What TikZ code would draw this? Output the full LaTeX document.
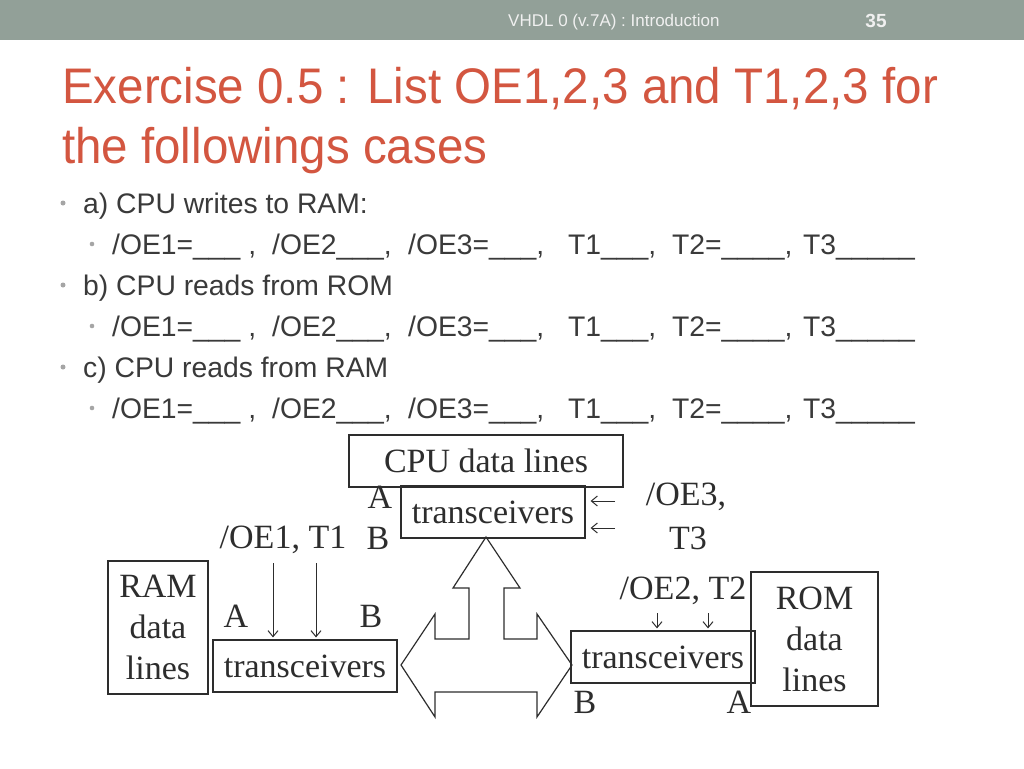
\documentclass[tikz,border=0pt]{standalone}
\usepackage{fontspec}
\setmainfont{Liberation Serif}
\setsansfont{Liberation Sans}
\newfontfamily\titlefont[FakeStretch=0.95]{Liberation Sans}
\usetikzlibrary{arrows.meta}
\definecolor{barcol}{RGB}{146,160,152}
\definecolor{titlecol}{RGB}{211,86,64}
\definecolor{bodytext}{RGB}{58,58,58}
\definecolor{dotcol}{RGB}{165,165,165}
\definecolor{inkcol}{RGB}{45,45,45}
% one row of blanks to fill in
\newcommand{\blankrow}{%
  \makebox[160pt][l]{/OE1=\_\_\_ ,}%
  \makebox[136pt][l]{/OE2\_\_\_,}%
  \makebox[160pt][l]{/OE3=\_\_\_,}%
  \makebox[104pt][l]{T1\_\_\_,}%
  \makebox[131pt][l]{T2=\_\_\_\_,}%
  T3\_\_\_\_\_}
\begin{document}
\begin{tikzpicture}[x=1pt,y=-1pt,
  box/.style={draw=inkcol,line width=1.2pt,inner sep=0pt,align=center,text=inkcol,
    font=\fontsize{34}{41}\selectfont},
  lbl/.style={inner sep=0pt,text=inkcol,font=\fontsize{34}{41}\selectfont},
  bullet/.style={anchor=base west,inner sep=0pt,text=bodytext,
    font=\sffamily\fontsize{28.3}{34}\selectfont},
  ctl/.style={-{Straight Barb[length=6pt,width=10pt]},inkcol,line width=1pt}]
\useasboundingbox (0,0) rectangle (1024,768);
\fill[white] (0,0) rectangle (1024,768);
\fill[barcol] (0,0) rectangle (1024,40);
\node[anchor=base west,inner sep=0pt,text=white!94!black,
  font=\sffamily\fontsize{17}{20}\selectfont] (hdr) at (508,27) {VHDL 0 (v.7A) : Introduction};
\node[anchor=base,inner sep=0pt,text=white!94!black,
  font=\sffamily\bfseries\fontsize{19}{22}\selectfont] (pageno) at (876,28) {35};
% title
\node[anchor=base west,inner sep=0pt,text=titlecol,
  font=\titlefont\fontsize{50}{60}\selectfont] (title1) at (62,103) {Exercise 0.5 : List OE1,2,3 and T1,2,3 for};
\node[anchor=base west,inner sep=0pt,text=titlecol,
  font=\titlefont\fontsize{50}{60}\selectfont] (title2) at (62,163) {the followings cases};
% cases
\foreach \y/\txt in {213/{a) CPU writes to RAM:},295/{b) CPU reads from ROM},377/{c) CPU reads from RAM}} {
  \fill[dotcol] (63,\y-10) circle (2.5pt);
  \node[bullet] at (83,\y) {\txt};
  \fill[dotcol] (92,\y+31) circle (2.3pt);
  \node[bullet] at (112,\y+41) {\blankrow};
}
% boxes
\node[box,minimum width=274pt,minimum height=52pt] (cpu) at (486,461) {CPU data lines};
\node[box,minimum width=184pt,minimum height=52pt] (ttx) at (493,512) {transceivers};
\node[box,minimum width=184pt,minimum height=52pt] (ltx) at (305,666) {transceivers};
\node[box,minimum width=184pt,minimum height=52pt] (rtx) at (663,657) {transceivers};
\node[box,minimum width=100pt,minimum height=133pt] (ram) at (158,627.5) {RAM\\data\\lines};
\node[box,minimum width=127pt,minimum height=134pt] (rom) at (814.5,639) {ROM\\data\\lines};
% labels
\node[lbl] (ta) at (380,497) {A};
\node[lbl] (tb) at (378,538) {B};
\node[lbl] (oe3) at (686,497) {/OE3,};
\node[lbl] (t3) at (688,538) {T3};
\node[lbl] (oe1) at (283,540) {/OE1, T1};
\node[lbl] (la) at (236,616) {A};
\node[lbl] (lb) at (371,616) {B};
\node[lbl] (oe2) at (683,591) {/OE2, T2};
\node[lbl] (rb) at (585,702) {B};
\node[lbl] (ra) at (739,702) {A};
% control lines
\coordinate (c3a) at (615,501);
\coordinate (c3b) at (615,528);
\draw[ctl] (c3a) -- ([xshift=5pt]ttx.east |- c3a);
\draw[ctl] (c3b) -- ([xshift=5pt]ttx.east |- c3b);
\coordinate (c1a) at (273,563);
\coordinate (c1b) at (316,563);
\draw[ctl] (c1a) -- ([yshift=2pt]ltx.north -| c1a);
\draw[ctl] (c1b) -- ([yshift=2pt]ltx.north -| c1b);
\coordinate (c2a) at (657,613);
\coordinate (c2b) at (708,613);
\draw[ctl] (c2a) -- ([yshift=2pt]rtx.north -| c2a);
\draw[ctl] (c2b) -- ([yshift=2pt]rtx.north -| c2b);
% data bus
\draw[inkcol,line width=1.2pt] (486,537) -- (520,588) -- (504,588) -- (504,639)
  -- (537,639) -- (537,614) -- (572,665) -- (537,717) -- (537,692)
  -- (435,692) -- (435,717) -- (401,665) -- (435,614) -- (435,639)
  -- (469,639) -- (469,588) -- (453,588) -- cycle;
\end{tikzpicture}
\end{document}
